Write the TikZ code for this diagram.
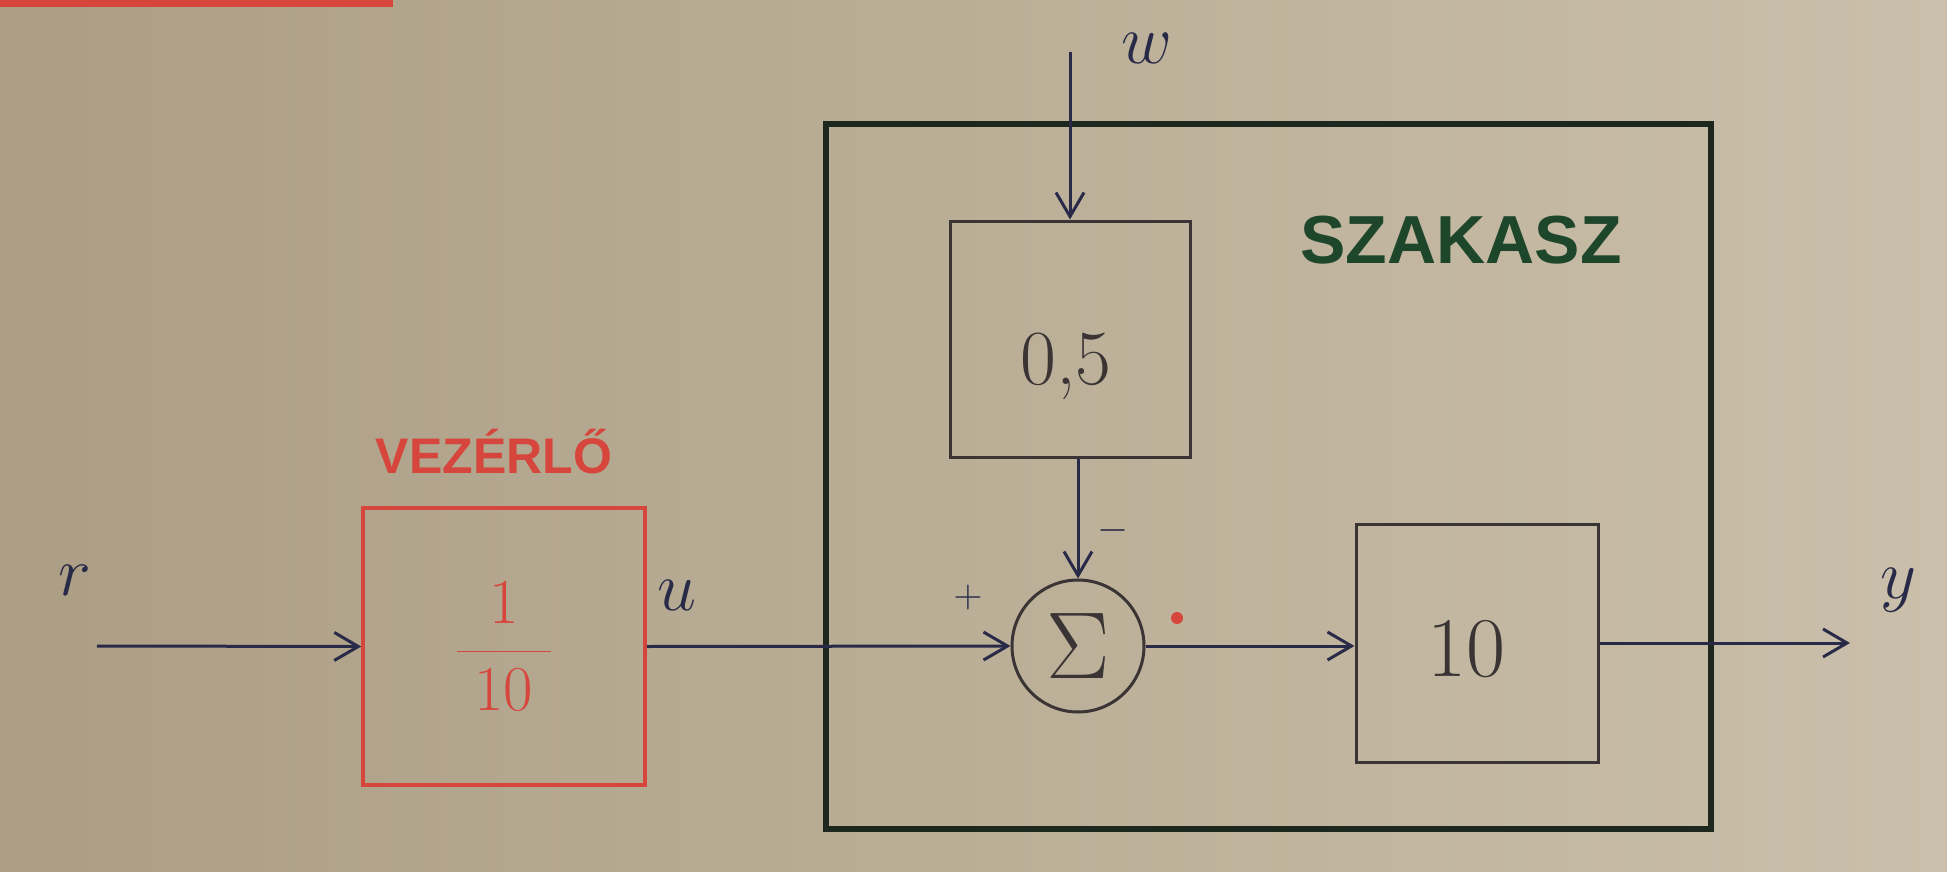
\RequirePackage{fix-cm}
\documentclass[tikz,border=0pt]{standalone}
\usepackage{fontspec}
\usetikzlibrary{arrows.meta}
\newfontfamily\capsfont{Liberation Sans}
\definecolor{paperL}{RGB}{172,158,133}
\definecolor{paperR}{RGB}{202,191,170}
\definecolor{ink}{RGB}{40,42,72}
\definecolor{boxink}{RGB}{58,52,52}
\definecolor{frameink}{RGB}{28,40,30}
\definecolor{redink}{RGB}{214,70,60}
\definecolor{greenink}{RGB}{30,70,42}
\tikzset{
  blockbox/.style={draw=boxink, line width=3pt, minimum width=240pt, minimum height=236pt, inner sep=0pt},
  ctrlbox/.style={draw=redink, line width=3.5pt, minimum width=282pt, minimum height=277pt, inner sep=0pt, text=redink},
  framebox/.style={draw=frameink, line width=6pt, minimum width=885pt, minimum height=705pt, inner sep=0pt},
  sumnode/.style={draw=boxink, line width=3pt, circle, minimum size=132pt, inner sep=0pt},
  signal/.style={draw=ink, line width=3pt, -{Straight Barb[length=24pt,width=28pt,line width=3pt]}},
  sig/.style={text=ink, font=\fontsize{70}{80}\selectfont, inner sep=0pt},
  sign/.style={text=ink, font=\fontsize{40}{44}\selectfont, inner sep=0pt},
}
\begin{document}
\begin{tikzpicture}[x=1pt,y=-1pt]
  % paper
  \useasboundingbox (0,0) rectangle (1947,872);
  \shade[left color=paperL, right color=paperR] (0,0) rectangle (1947,872);
  % heading underline at the top edge
  \draw[redink, line width=8pt] (0,3) -- (393,3);

  % plant frame and its title
  \node[framebox] (plant) at (1268.5,476.5) {};
  \node[text=greenink, font=\capsfont\bfseries\fontsize{68}{74}\selectfont, inner sep=0pt] (plantlbl) at (1461,240) {SZAKASZ};

  % controller
  \node[ctrlbox] (ctrl) at (504,646.5) {\fontsize{64}{70}\selectfont$\displaystyle\frac{\;1\;}{\;10\;}$};
  \node[text=redink, font=\capsfont\bfseries\fontsize{50}{56}\selectfont, inner sep=0pt] (ctrllbl) at (494,452) {VEZÉRLŐ};

  % plant blocks
  \node[blockbox] (gain05) at (1070,339) {};
  \node[font=\fontsize{78}{84}\selectfont, text=boxink, inner sep=0pt] (t05) at (1066,366) {0,5};
  \node[sumnode, text=boxink] (sum) at (1078,646) {\fontsize{95}{100}\selectfont$\Sigma$};
  \node[blockbox, minimum width=242pt, minimum height=238pt] (gain10) at (1477,643) {};
  \node[font=\fontsize{85}{90}\selectfont, text=boxink, inner sep=0pt] (t10) at (1466,649) {10};

  % free ends of the signals
  \coordinate (rin) at (97,646);
  \coordinate (win) at (1070,52);
  \coordinate (yout) at (1850,643);

  % signals
  \draw[signal] (rin) -- (ctrl.west);
  \draw[signal] (ctrl.east) -- (sum.west);
  \draw[signal] (win) -- (gain05.north);
  \draw[signal] (gain05.south -| sum.north) -- (sum.north);
  \draw[signal] (sum.east) -- (sum.east -| gain10.west);
  \draw[signal] (gain10.east) -- (yout);

  % signal names and signs
  \node[sig] (rlbl) at (75,580) {$r$};
  \node[sig] (ulbl) at (677,595) {$u$};
  \node[sig] (wlbl) at (1147,48) {$w$};
  \node[sig] (ylbl) at (1898,590) {$y$};
  \node[sign] (plus) at (968,597) {$+$};
  \node[sign] (minus) at (1113,530) {$-$};
  \fill[redink] (1177,618) circle (6pt);
\end{tikzpicture}
\end{document}
